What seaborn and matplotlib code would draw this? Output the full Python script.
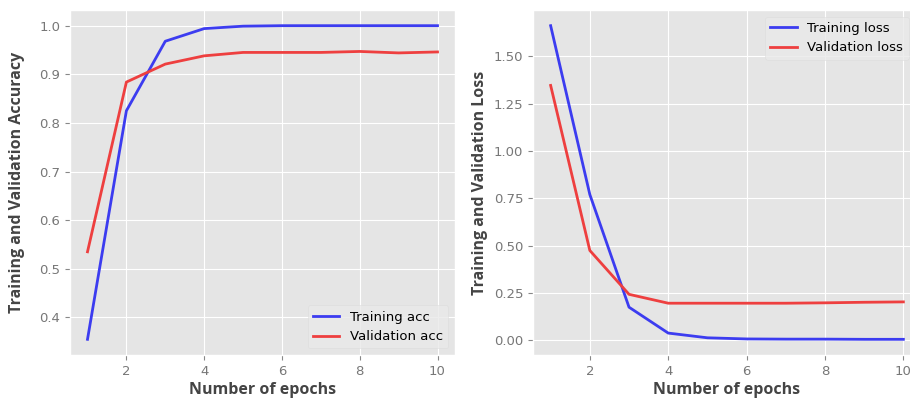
import matplotlib
matplotlib.use("Agg")
import matplotlib.pyplot as plt
import seaborn as sns
import pandas as pd

epochs = [1, 2, 3, 4, 5, 6, 7, 8, 9, 10]
train_acc = [0.355, 0.825, 0.968, 0.994, 0.999, 1.0, 1.0, 1.0, 1.0, 1.0]
val_acc = [0.535, 0.884, 0.921, 0.938, 0.945, 0.945, 0.945, 0.947, 0.944, 0.946]
train_loss = [1.663, 0.77, 0.174, 0.037, 0.012, 0.006, 0.005, 0.005, 0.004, 0.004]
val_loss = [1.347, 0.474, 0.242, 0.195, 0.195, 0.195, 0.195, 0.197, 0.200, 0.202]

plt.style.use("ggplot")
plt.rcParams["font.family"] = ["DejaVu Sans"]

fig = plt.figure(figsize=(9.1, 4.0), dpi=100)
ax1 = fig.add_axes([70 / 910, 45 / 400, 385 / 910, 345 / 400])
ax2 = fig.add_axes([533 / 910, 45 / 400, 388 / 910, 345 / 400])

blue = "#3c3cf0"
red = "#ee3f3f"
label_font = dict(family="Open Sans", weight="bold", size=11.5, color="#444444")

df = pd.DataFrame({"epoch": epochs, "ta": train_acc, "va": val_acc,
                   "tl": train_loss, "vl": val_loss})

sns.lineplot(data=df, x="epoch", y="ta", ax=ax1, color=blue, lw=2, label="Training acc")
sns.lineplot(data=df, x="epoch", y="va", ax=ax1, color=red, lw=2, label="Validation acc")
sns.lineplot(data=df, x="epoch", y="tl", ax=ax2, color=blue, lw=2, label="Training loss")
sns.lineplot(data=df, x="epoch", y="vl", ax=ax2, color=red, lw=2, label="Validation loss")

ax1.set_xlabel("Number of epochs", labelpad=3, **label_font)
ax1.set_ylabel("Training and Validation Accuracy", labelpad=10, **label_font)
ax2.set_xlabel("Number of epochs", labelpad=3, **label_font)
ax2.set_ylabel("Training and Validation Loss", labelpad=4, **label_font)

ax1.set_xticks([2, 4, 6, 8, 10])
ax2.set_xticks([2, 4, 6, 8, 10])
ax1.set_yticks([0.4, 0.5, 0.6, 0.7, 0.8, 0.9, 1.0])
ax2.set_yticks([0.0, 0.25, 0.5, 0.75, 1.0, 1.25, 1.5])
ax2.set_yticklabels(["0.00", "0.25", "0.50", "0.75", "1.00", "1.25", "1.50"])

for ax in (ax1, ax2):
    ax.tick_params(labelsize=9.5, colors="#888888", labelcolor="#777777")

ax1.legend(loc="lower right", fontsize=9.5, facecolor="#e9e9e9", edgecolor="#dddddd")
ax2.legend(loc="upper right", fontsize=9.5, facecolor="#e9e9e9", edgecolor="#dddddd",
           bbox_to_anchor=(0.985, 1.0))

fig.savefig("out.png", dpi=100)
